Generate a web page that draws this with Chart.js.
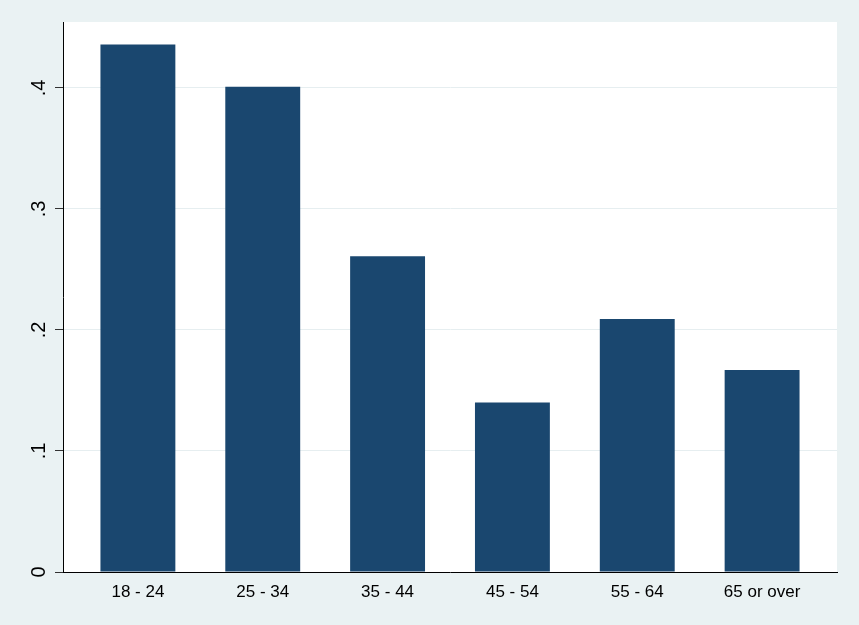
<!DOCTYPE html>
<html>
<head>
<meta charset="utf-8">
<script src="https://cdn.jsdelivr.net/npm/chart.js@4/dist/chart.umd.min.js"></script>
<style>
  html, body { margin: 0; padding: 0; background: #eaf2f3; }
  #wrap { width: 859px; height: 625px; }
</style>
</head>
<body>
<div id="wrap"><canvas id="chart" width="859" height="625"></canvas></div>
<script>
// Data
const categories = ['18 - 24', '25 - 34', '35 - 44', '45 - 54', '55 - 64', '65 or over'];
const shares = [0.436, 0.401, 0.261, 0.140, 0.209, 0.167];
const yTicks = [0, 0.1, 0.2, 0.3, 0.4];
const yTickLabels = ['0', '.1', '.2', '.3', '.4'];

const fontFamily = '"Liberation Sans", Arial, sans-serif';

// white plot region behind the bars
const plotBackground = {
  id: 'plotBackground',
  beforeDraw(chart) {
    const { ctx, chartArea } = chart;
    ctx.save();
    ctx.fillStyle = '#ffffff';
    ctx.fillRect(chartArea.left, chartArea.top, chartArea.right - chartArea.left, chartArea.bottom - chartArea.top);
    ctx.restore();
  }
};

// Stata-style vertical y tick labels
const verticalYLabels = {
  id: 'verticalYLabels',
  afterDraw(chart) {
    const { ctx } = chart;
    const yScale = chart.scales.y;
    ctx.save();
    ctx.fillStyle = '#000000';
    ctx.font = '20px ' + fontFamily;
    ctx.textAlign = 'center';
    ctx.textBaseline = 'middle';
    yScale.ticks.forEach((tick) => {
      const y = yScale.getPixelForValue(tick.value);
      ctx.save();
      ctx.translate(39, y);
      ctx.rotate(-Math.PI / 2);
      ctx.fillText(yTickLabels[yTicks.indexOf(tick.value)], 0, 0);
      ctx.restore();
    });
    ctx.restore();
  }
};

new Chart(document.getElementById('chart'), {
  type: 'bar',
  data: {
    datasets: [{
      data: shares.map((v, i) => ({ x: i + 1, y: v })),
      backgroundColor: '#1a476f',
      borderWidth: 0,
      barPercentage: 0.6,
      categoryPercentage: 1
    }]
  },
  options: {
    responsive: false,
    animation: false,
    layout: { padding: { top: 22, right: 22, left: 0, bottom: 0 } },
    plugins: {
      legend: { display: false },
      tooltip: { enabled: false }
    },
    scales: {
      x: {
        type: 'linear',
        offset: false,
        min: 0.4,
        max: 6.6,
        afterBuildTicks: (scale) => { scale.ticks = categories.map((c, i) => ({ value: i + 1 })); },
        afterFit: (scale) => { scale.height = 53; },
        grid: { display: false, offset: false },
        border: { display: true, color: '#000000', width: 1 },
        ticks: {
          color: '#000000',
          font: { family: fontFamily, size: 17 },
          padding: 2,
          maxRotation: 0,
          autoSkip: false,
          callback: (v) => categories[v - 1]
        }
      },
      y: {
        min: 0,
        max: 0.4545,
        afterBuildTicks: (scale) => { scale.ticks = yTicks.map(v => ({ value: v })); },
        afterFit: (scale) => { scale.width = 63; },
        grid: {
          color: '#e6eef0',
          lineWidth: 1,
          drawTicks: true,
          tickLength: 8,
          tickColor: '#333333'
        },
        border: { display: true, color: '#000000', width: 1 },
        ticks: { display: false }
      }
    }
  },
  plugins: [plotBackground, verticalYLabels]
});
</script>
</body>
</html>
